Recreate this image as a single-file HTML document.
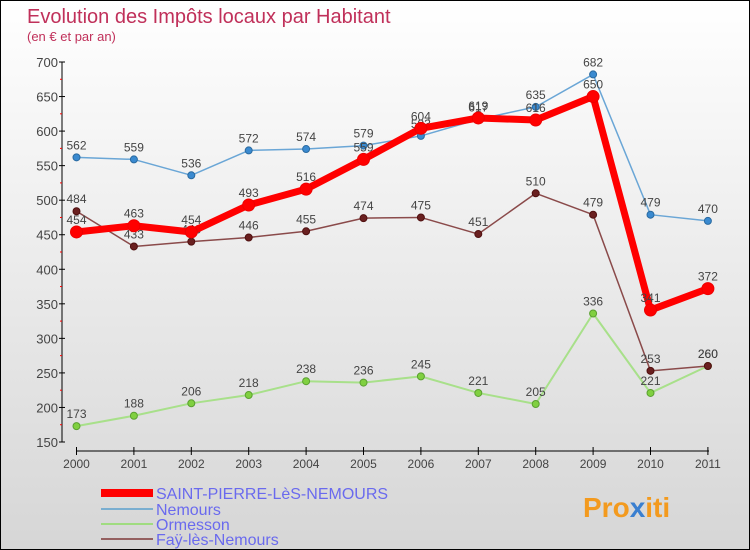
<!DOCTYPE html>
<html><head><meta charset="utf-8"><style>
body{margin:0}
#c{position:relative;width:750px;height:550px;box-sizing:border-box;border:1px solid #000;background:linear-gradient(#fff,#d6d6d6);font-family:"Liberation Sans","DejaVu Sans",sans-serif;overflow:hidden}
</style></head><body>
<div id="c">
<svg width="750" height="550" style="position:absolute;left:0;top:0" id="s">
<text x="26" y="22" font-size="20" fill="#c0305a">Evolution des Impôts locaux par Habitant</text>
<text x="26" y="40" font-size="13" fill="#c0305a">(en € et par an)</text>
<g id="axes"></g><g id="series"></g>
<g font-size="16" fill="#6a6aee">
<rect x="100" y="488" width="52" height="8" fill="#f00"/>
<text x="155" y="498">SAINT-PIERRE-LèS-NEMOURS</text>
<line x1="100" x2="152" y1="508" y2="508" stroke="#7aaed0" stroke-width="2"/>
<text x="155" y="514">Nemours</text>
<line x1="100" x2="152" y1="523" y2="523" stroke="#a0dc80" stroke-width="2"/>
<text x="155" y="529">Ormesson</text>
<line x1="100" x2="152" y1="538" y2="538" stroke="#946060" stroke-width="2"/>
<text x="155" y="544">Faÿ-lès-Nemours</text>
</g>
<text x="582" y="516" font-size="28" font-weight="bold" fill="#f39a1e">Pro<tspan fill="#3a7fd0">x</tspan>iti</text>
</svg>
</div>
<script>
const years=["2000","2001","2002","2003","2004","2005","2006","2007","2008","2009","2010","2011"];
const yTicks=[150,200,250,300,350,400,450,500,550,600,650,700];
const saintPierre=[454,463,454,493,516,559,604,619,616,650,341,372];
const nemours=[562,559,536,572,574,579,593,617,635,682,479,470];
const ormesson=[173,188,206,218,238,236,245,221,205,336,221,260];
const fay=[484,433,440,446,455,474,475,451,510,479,253,260];
const NS="http://www.w3.org/2000/svg";
const X=i=>75.5+i*57.4;
const Y=v=>441-(v-150)*(380/550);
function mk(t,a,p){const e=document.createElementNS(NS,t);for(const k in a)e.setAttribute(k,a[k]);p.appendChild(e);return e;}
const ax=document.getElementById('axes');
let e=mk('line',{x1:61,x2:61,y1:61,y2:441,stroke:'#000'},ax);


e=mk('line',{x1:75,x2:708,y1:450,y2:450,stroke:'#000'},ax);


yTicks.forEach((v,i)=>{
  mk('line',{x1:58,x2:64,y1:Y(v),y2:Y(v),stroke:'#000'},ax);
  if(i<yTicks.length-1)mk('line',{x1:59,x2:61,y1:Y(v+25),y2:Y(v+25),stroke:'#f00'},ax);
  const t=mk('text',{x:57,y:Y(v)+5,'text-anchor':'end','font-size':13,fill:'#444'},ax);
  t.textContent=v;
  
  
});
years.forEach((y,i)=>{
  mk('line',{x1:X(i),x2:X(i),y1:446,y2:454,stroke:'#000'},ax);
  const t=mk('text',{x:X(i),y:467,'text-anchor':'middle','font-size':12,fill:'#444'},ax);
  t.textContent=y;
  
  
});
const sg=document.getElementById('series');
function draw(data,name,color,w,dot,dotStroke,r){
  const g=mk('g',{},sg);
  
  
  const l=mk('polyline',{points:data.map((v,i)=>X(i)+','+Y(v)).join(' '),fill:'none',stroke:color,'stroke-width':w,'stroke-linejoin':'round'},g);
  
  
  data.forEach((v,i)=>{
    const c=mk('circle',{cx:X(i),cy:Y(v),r:r,fill:dot,stroke:dotStroke,'stroke-width':1},g);
    
    
    const t=mk('text',{x:X(i),y:Y(v)-8,'text-anchor':'middle','font-size':12,fill:'#444'},g);
    t.textContent=v;
    
    
  });
}
draw(nemours,'nemours','#6aa6d6',1.5,'#3a8ad0','#2a6aa0',3.5);
draw(ormesson,'ormesson','#a8e08a',2,'#80d040','#5aa030',3.5);
draw(fay,'fay','#8a4a4a',1.5,'#6a2020','#501010',3.5);
draw(saintPierre,'saint-pierre','#f00',7,'#f00','#e00',6);
</script>
</body></html>
